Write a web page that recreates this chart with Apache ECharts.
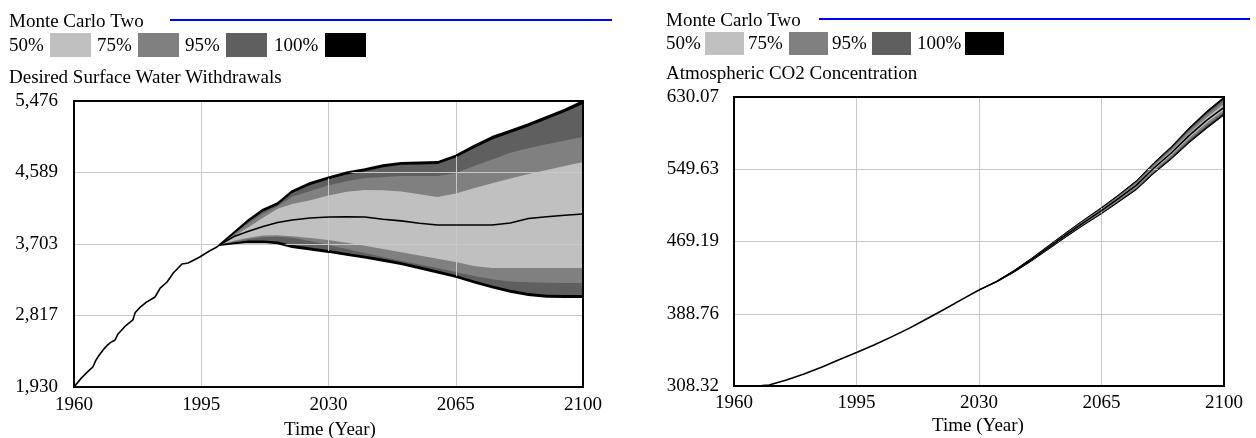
<!DOCTYPE html>
<html><head><meta charset="utf-8">
<script src="https://cdn.jsdelivr.net/npm/echarts@6/dist/echarts.min.js"></script>
<style>html,body{margin:0;padding:0;background:#fff}#c{width:1256px;height:438px}</style>
</head><body><div id="c"></div>
<script>
// ---- tick labels ----
const xTickYears = [1960, 1995, 2030, 2065, 2100];
const waterTickLabels = ['1,930', '2,817', '3,703', '4,589', '5,476'];
const co2TickLabels = ['308.32', '388.76', '469.19', '549.63', '630.07'];
const legendLabels = ['50%', '75%', '95%', '100%'];
const bandColors = ['#c0c0c0', '#808080', '#5f5f5f', '#000000'];
const seriesName = 'Monte Carlo Two';
const waterTitle = 'Desired Surface Water Withdrawals';
const co2Title = 'Atmospheric CO2 Concentration';
const xName = 'Time (Year)';

// ---- Desired Surface Water Withdrawals ----
const waterMin = 1930, waterMax = 5476;
const waterHistYears = [1960, 1962, 1964, 1965.2, 1966, 1967, 1968, 1969, 1970, 1971.3, 1972, 1973, 1974, 1975, 1976.2, 1976.8, 1978, 1980, 1982.3, 1983.7, 1985.6, 1987.3, 1989.7, 1991.4, 1993, 1994.6, 1997, 1999.3, 2000];
const waterHist = [1930, 2040, 2130, 2178, 2260, 2330, 2390, 2440, 2480, 2513, 2580, 2630, 2680, 2720, 2761, 2850, 2910, 2984, 3046, 3157, 3232, 3343, 3455, 3467, 3505, 3542, 3610, 3666, 3690];
const waterBandYears = [2000, 2004, 2008, 2012, 2016, 2020, 2025, 2030, 2035, 2040, 2045, 2050, 2055, 2060, 2065, 2070, 2075, 2080, 2085, 2090, 2095, 2100];
const waterMedian = [3690, 3795, 3860, 3920, 3970, 4000, 4025, 4038, 4040, 4038, 4010, 3990, 3960, 3939, 3939, 3939, 3939, 3964, 4020, 4040, 4060, 4075];
const waterU100 = [3690, 3845, 4000, 4130, 4210, 4360, 4460, 4530, 4590, 4630, 4680, 4710, 4715, 4720, 4800, 4920, 5030, 5110, 5190, 5280, 5370, 5476];
const waterU95 = [3690, 3830, 3980, 4105, 4185, 4335, 4435, 4505, 4565, 4605, 4655, 4685, 4690, 4695, 4775, 4890, 5000, 5080, 5160, 5250, 5340, 5440];
const waterU75 = [3690, 3820, 3960, 4080, 4170, 4290, 4360, 4430, 4480, 4520, 4535, 4545, 4545, 4546, 4580, 4670, 4750, 4835, 4890, 4940, 4985, 5030];
const waterU50 = [3690, 3800, 3910, 4030, 4140, 4200, 4245, 4305, 4350, 4372, 4370, 4355, 4320, 4286, 4330, 4395, 4455, 4515, 4570, 4620, 4670, 4720];
const waterL50 = [3690, 3742, 3780, 3808, 3812, 3798, 3778, 3753, 3720, 3682, 3640, 3600, 3560, 3520, 3480, 3430, 3406, 3406, 3406, 3406, 3406, 3406];
const waterL75 = [3690, 3730, 3765, 3788, 3792, 3782, 3740, 3691, 3640, 3590, 3542, 3495, 3450, 3405, 3356, 3305, 3265, 3238, 3228, 3222, 3220, 3220];
const waterL95 = [3690, 3720, 3745, 3745, 3735, 3690, 3660, 3628, 3592, 3558, 3520, 3478, 3427, 3373, 3318, 3252, 3190, 3135, 3095, 3073, 3071, 3071];
const waterL100 = [3690, 3712, 3728, 3725, 3712, 3665, 3635, 3604, 3568, 3534, 3495, 3453, 3402, 3348, 3294, 3228, 3165, 3110, 3070, 3048, 3046, 3046];

// ---- Atmospheric CO2 Concentration ----
const co2Min = 308.32, co2Max = 630.07;
const co2HistYears = [1960, 1965, 1968, 1970, 1975, 1980, 1985, 1990, 1995, 2000, 2005, 2010, 2015, 2020, 2025, 2030];
const co2Hist = [308.4, 308.4, 308.8, 309.4, 315.0, 321.8, 329.2, 337.5, 345.5, 354.0, 363.0, 372.5, 383.0, 393.5, 404.5, 415.2];
const co2BandYears = [2030, 2035, 2040, 2045, 2050, 2055, 2060, 2065, 2070, 2075, 2080, 2085, 2090, 2095, 2100];
const co2Median = [415.2, 424.5, 436.0, 449.0, 463.0, 477.0, 490.5, 503.5, 517.5, 532.0, 551.0, 568.0, 587.0, 604.0, 618.6];
const co2U100 = [415.2, 425.0, 437.0, 450.5, 465.0, 479.5, 493.5, 507.0, 521.5, 537.0, 557.0, 575.0, 595.5, 614.0, 630.07];
const co2U95 = [415.2, 424.9, 436.8, 450.2, 464.6, 479.0, 492.9, 506.3, 520.7, 536.0, 555.8, 573.6, 593.8, 612.0, 627.8];
const co2U75 = [415.2, 424.8, 436.6, 449.9, 464.2, 478.5, 492.3, 505.6, 519.9, 535.0, 554.6, 572.2, 592.1, 610.0, 625.5];
const co2U50 = [415.2, 424.6, 436.3, 449.5, 463.6, 477.8, 491.4, 504.6, 518.7, 533.5, 552.8, 570.1, 589.5, 607.0, 622.0];
const co2L50 = [415.2, 424.4, 435.7, 448.5, 462.4, 476.2, 489.6, 502.4, 516.3, 530.5, 549.2, 565.9, 584.5, 601.0, 615.5];
const co2L75 = [415.2, 424.2, 435.4, 448.1, 461.8, 475.5, 488.8, 501.4, 515.1, 529.0, 547.5, 563.9, 582.1, 598.5, 613.5];
const co2L95 = [415.2, 424.1, 435.2, 447.8, 461.4, 475.0, 488.2, 500.7, 514.2, 528.0, 546.3, 562.5, 580.5, 596.7, 611.8];
const co2L100 = [415.2, 424.0, 435.0, 447.5, 461.0, 474.6, 487.7, 500.1, 513.5, 527.0, 545.2, 561.2, 579.0, 595.0, 610.0];

const FONT = '"Liberation Serif", "Times New Roman", serif';
const FS = 19;

function fillSeries(idx, pts, base, color) {
  return {
    type: 'line', xAxisIndex: idx, yAxisIndex: idx, symbol: 'none', silent: true, z: 2,
    lineStyle: { width: 0, opacity: 0 },
    areaStyle: { color: color, opacity: 1, origin: 'start' },
    data: pts.map(p => [p[0], p[1] - base])
  };
}
function zip(years, vals) { return years.map((y, j) => [y, vals[j]]); }
function bandSeries(idx, histYears, hist, years, arrs, base) {
  // drawn from outermost upper to outermost lower: U100, U95, U75, U50, L50, L75, L95, L100(white, joined to history)
  const cols = [bandColors[3], bandColors[2], bandColors[1], bandColors[0], bandColors[1], bandColors[2], bandColors[3]];
  const out = arrs.slice(0, 7).map((a, i) => fillSeries(idx, zip(years, a), base, cols[i]));
  const whitePts = zip(histYears, hist).slice(0, -1).concat(zip(years, arrs[7]));
  out.push(fillSeries(idx, whitePts, base, '#ffffff'));
  return out;
}
function lineSeries(idx, years, vals, base, w) {
  return {
    type: 'line', xAxisIndex: idx, yAxisIndex: idx, symbol: 'none', z: 4, silent: true,
    lineStyle: { color: '#000', width: w },
    data: years.map((y, j) => [y, vals[j] - base])
  };
}
function xAxisCfg(idx, margin) {
  return {
    type: 'value', gridIndex: idx, min: xTickYears[0], max: xTickYears[xTickYears.length - 1],
    interval: xTickYears[1] - xTickYears[0], z: 3,
    axisLine: { show: false }, axisTick: { show: false },
    splitLine: { show: true, lineStyle: { color: '#c8c8c8', width: 1 } },
    axisLabel: { color: '#000', fontFamily: FONT, fontSize: FS, margin: margin,
      formatter: v => String(v) }
  };
}
function yAxisCfg(idx, min, max, labels, margin) {
  const step = (max - min) / (labels.length - 1);
  return {
    type: 'value', gridIndex: idx, min: 0, max: max - min, interval: step, z: 3,
    axisLine: { show: false }, axisTick: { show: false },
    splitLine: { show: true, lineStyle: { color: '#c8c8c8', width: 1 } },
    axisLabel: { color: '#000', fontFamily: FONT, fontSize: FS, margin: margin,
      formatter: v => labels[Math.round(v / step)] || '' }
  };
}

function txt(t, x, y, align) {
  return { type: 'text', silent: true, z: 20, style: { text: t, x: x, y: y, font: FS + 'px ' + FONT, fill: '#000',
    align: align || 'left', verticalAlign: 'middle', textAlign: align || 'left', textVerticalAlign: 'middle' } };
}
function legendBlock(x0, lineX1, lineX2, yRow1, yRow2, yTitle, title, textXs, swXs, swW, swY, swH, blueY) {
  const g = [];
  g.push(txt(seriesName, x0, yRow1));
  g.push({ type: 'line', silent: true, shape: { x1: lineX1, y1: blueY, x2: lineX2, y2: blueY }, style: { stroke: '#0000ff', lineWidth: 2 } });
  legendLabels.forEach((l, i) => {
    g.push(txt(l, textXs[i], yRow2));
    g.push({ type: 'rect', silent: true, shape: { x: swXs[i], y: swY, width: swW, height: swH }, style: { fill: bandColors[i] } });
  });
  g.push(txt(title, x0, yTitle));
  return g;
}

const graphics = [].concat(
  legendBlock(9, 170, 612, 22, 46, 78, waterTitle, [9, 97, 185, 274], [50, 138, 226, 325], 41, 33, 24, 20),
  legendBlock(666, 819, 1250, 21.5, 44, 74, co2Title, [666, 748, 832, 917], [705, 789, 872, 965], 39, 32, 23, 19),
  [txt(xName, 330, 430, 'center'), txt(xName, 978, 426, 'center')]
);

const series = [].concat(
  bandSeries(0, waterHistYears, waterHist, waterBandYears, [waterU100, waterU95, waterU75, waterU50, waterL50, waterL75, waterL95, waterL100], waterMin),
  [lineSeries(0, waterHistYears, waterHist, waterMin, 1.6),
   lineSeries(0, waterBandYears, waterMedian, waterMin, 1.6),
   lineSeries(0, waterBandYears, waterU100, waterMin, 1.8),
   lineSeries(0, waterBandYears, waterL100, waterMin, 1.8)],
  bandSeries(1, co2HistYears, co2Hist, co2BandYears, [co2U100, co2U95, co2U75, co2U50, co2L50, co2L75, co2L95, co2L100], co2Min),
  [lineSeries(1, co2HistYears, co2Hist, co2Min, 1.6),
   lineSeries(1, co2BandYears, co2Median, co2Min, 1.6),
   lineSeries(1, co2BandYears, co2U100, co2Min, 1),
   lineSeries(1, co2BandYears, co2L100, co2Min, 1)]
);

const chart = echarts.init(document.getElementById('c'), null, { renderer: 'canvas' });
chart.setOption({
  animation: false,
  backgroundColor: '#fff',
  grid: [
    { left: 74, top: 101, width: 509, height: 286, show: true, borderColor: '#000', borderWidth: 2, z: 10, backgroundColor: 'transparent' },
    { left: 734, top: 97, width: 490, height: 289, show: true, borderColor: '#000', borderWidth: 2, z: 10, backgroundColor: 'transparent' }
  ],
  xAxis: [xAxisCfg(0, 9), xAxisCfg(1, 8)],
  yAxis: [yAxisCfg(0, waterMin, waterMax, waterTickLabels, 16), yAxisCfg(1, co2Min, co2Max, co2TickLabels, 15)],
  series: series,
  graphic: graphics
});
</script></body></html>
